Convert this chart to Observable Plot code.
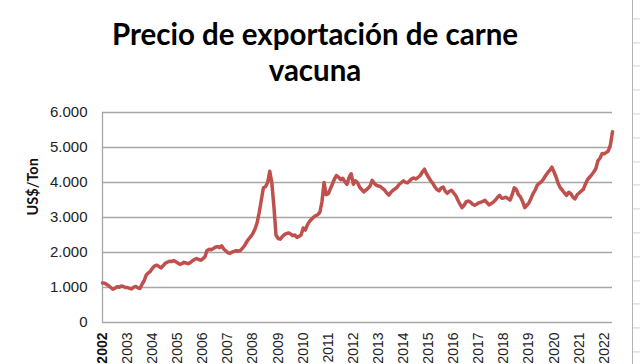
<!DOCTYPE html>
<html><head><meta charset="utf-8">
<script src="https://cdn.jsdelivr.net/npm/d3@7"></script>
<script src="https://cdn.jsdelivr.net/npm/@observablehq/plot@0.6"></script>
<style>
body{margin:0;background:#fff;}
#wrap{position:relative;width:640px;height:364px;overflow:hidden;background:#fff;}
#title{position:absolute;left:-5px;width:640px;top:15.5px;text-align:center;font-family:Lato,'Open Sans',sans-serif;font-weight:700;font-size:29.5px;line-height:36px;color:#000;}
#sheet{position:absolute;left:632px;top:0;width:8px;height:364px;border-left:1px solid #b4b4b4;
 background-image:repeating-linear-gradient(to bottom, transparent 0px, transparent 22.8px, #d0d0d0 22.8px, #d0d0d0 23.8px);
 background-position:0 -4.6px;}
#chart{position:absolute;left:0;top:0;}
</style></head>
<body>
<div id="wrap">
  <div id="chart"></div>
  <div id="title">Precio de exportación de carne<br>vacuna</div>
  <div id="sheet"></div>
</div>
<script>
const startYear = 2002;
const years = d3.range(2002, 2023);
const yTicks = [0, 1000, 2000, 3000, 4000, 5000, 6000];
const yLabel = "US$/Ton";
// monthly export price, US$/Ton, Jan 2002 .. May 2022
const monthlyPrices = [
 1130,1120,1090,1050,1000,950,980,1020,1010,1040,1030,1000,
 1000,970,960,1010,1030,990,970,1100,1200,1360,1420,1470,
 1560,1620,1640,1600,1560,1620,1690,1720,1750,1740,1770,1740,
 1700,1660,1680,1720,1700,1680,1710,1760,1800,1830,1800,1780,
 1820,1880,2050,2090,2080,2110,2150,2170,2140,2190,2100,2050,
 1990,1980,2010,2030,2050,2040,2060,2120,2200,2300,2390,2460,
 2550,2680,2850,3150,3500,3850,3880,4000,4320,4000,3300,2500,
 2400,2380,2450,2510,2540,2560,2530,2480,2500,2430,2460,2500,
 2700,2640,2780,2880,2950,3010,3050,3080,3150,3450,4000,3650,
 3680,3820,3950,4100,4200,4150,4080,4120,4020,3950,4150,4250,
 3950,4050,4000,3870,3800,3730,3780,3830,3900,4060,3980,3920,
 3900,3880,3830,3780,3700,3640,3720,3780,3820,3870,3950,4000,
 4050,4000,3990,4050,4110,4130,4100,4150,4200,4300,4380,4250,
 4150,4050,3980,3880,3800,3760,3840,3870,3750,3690,3750,3780,
 3700,3620,3500,3380,3280,3350,3450,3470,3440,3380,3350,3380,
 3420,3440,3460,3490,3420,3360,3400,3440,3500,3580,3630,3550,
 3560,3580,3540,3500,3650,3850,3800,3650,3580,3450,3280,3350,
 3420,3550,3680,3780,3920,3980,4020,4100,4200,4280,4350,4440,
 4300,4150,3970,3850,3780,3700,3630,3720,3680,3580,3530,3650,
 3700,3760,3800,3950,4080,4150,4220,4300,4400,4620,4700,4830,
 4820,4860,4900,5080,5450
];

const fmt = d3.formatLocale({decimal:",", thousands:".", grouping:[3], currency:["$",""]}).format(",d");
const data = monthlyPrices.map((v, i) => ({date: new Date(Date.UTC(startYear, i, 1)), price: v}));
const yearDates = years.map(y => new Date(Date.UTC(y, 0, 1)));
const gridColor = "#a6a6a6";

const chart = Plot.plot({
  width: 640, height: 364,
  marginTop: 112, marginBottom: 42, marginLeft: 102, marginRight: 28,
  style: {fontFamily: "'Liberation Sans', Arial, sans-serif", background: "transparent", overflow: "visible"},
  x: {type: "utc", domain: [data[0].date, data[data.length - 1].date]},
  y: {domain: [0, 6000]},
  marks: [
    Plot.gridY(yTicks.slice(1), {stroke: gridColor, strokeOpacity: 1, strokeWidth: 1.3}),
    Plot.ruleY([0], {stroke: gridColor, strokeWidth: 1.3}),
    Plot.ruleX([data[0].date], {stroke: gridColor, strokeWidth: 1.3}),
    Plot.axisY(yTicks, {tickSize: 0, tickPadding: 15, tickFormat: fmt, fontSize: 15, fill: "#222", label: null}),
    Plot.axisX(yearDates.slice(1), {tickSize: 0, tickPadding: 10, tickRotate: -90, tickFormat: "%Y", fontSize: 14, fill: "#222", label: null}),
    Plot.axisX(yearDates.slice(0, 1), {tickSize: 0, tickPadding: 10, tickRotate: -90, tickFormat: "%Y", fontSize: 14, fontWeight: "bold", fill: "#111", label: null}),
    Plot.line(data, {x: "date", y: "price", stroke: "#C0504D", strokeWidth: 3.5}),
    Plot.text([yLabel], {text: d => d, frameAnchor: "left", dx: -69, dy: -2, rotate: -90, fontWeight: "bold", fontSize: 14.5, fill: "#111", fontFamily: "Lato, 'Open Sans', sans-serif"})
  ]
});
document.getElementById("chart").appendChild(chart);
</script>
</body></html>
